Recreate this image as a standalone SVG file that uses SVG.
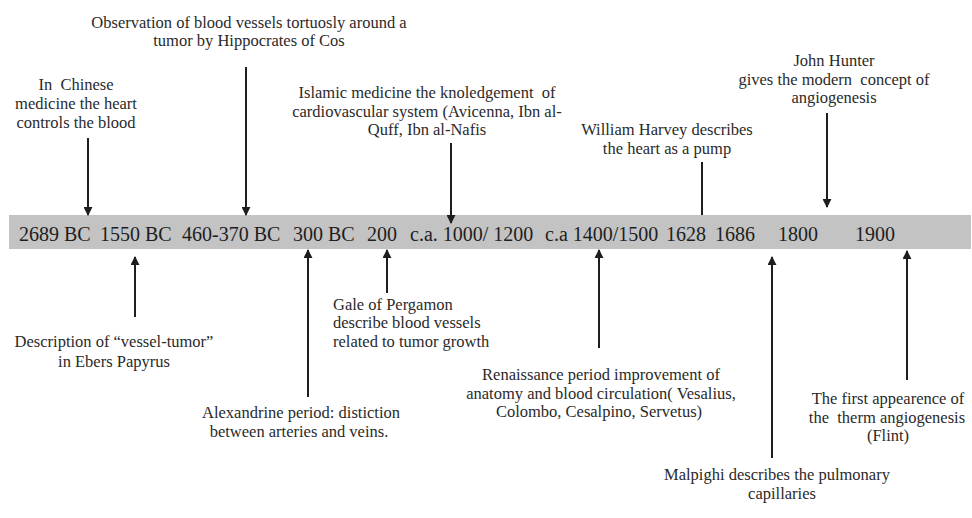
<svg xmlns="http://www.w3.org/2000/svg" width="972" height="518" viewBox="0 0 972 518">
<style>
.lbl{font-family:"Liberation Serif","Times New Roman",serif;font-size:16.5px;fill:#2a2a2a;text-anchor:middle;white-space:pre}
.lft{text-anchor:start}
.yr{font-family:"Liberation Serif","Times New Roman",serif;font-size:20px;fill:#1e1e1e}
.ar{stroke:#1e1e1e;stroke-width:2;fill:none}
</style>
<defs>
<marker id="ah" viewBox="0 0 10 10" refX="9" refY="5" markerWidth="9" markerHeight="9" markerUnits="userSpaceOnUse" orient="auto">
<path d="M0,0 L10,5 L0,10 z" fill="#1e1e1e"/>
</marker>
</defs>
<rect width="972" height="518" fill="#ffffff"/>
<g id="timeline">
<rect x="9" y="215" width="962" height="34" fill="#c3c3c3"/>
<text class="yr" x="19" y="241">2689 BC</text>
<text class="yr" x="100" y="241">1550 BC</text>
<text class="yr" x="182" y="241">460-370 BC</text>
<text class="yr" x="293" y="241">300 BC</text>
<text class="yr" x="367" y="241">200</text>
<text class="yr" x="410" y="241">c.a. 1000/ 1200</text>
<text class="yr" x="545" y="241">c.a 1400/1500</text>
<text class="yr" x="666" y="241">1628</text>
<text class="yr" x="715" y="241">1686</text>
<text class="yr" x="778" y="241">1800</text>
<text class="yr" x="855" y="241">1900</text>
</g>
<g id="connectors">
<line class="ar" x1="88" y1="138" x2="88" y2="215" marker-end="url(#ah)"/>
<line class="ar" x1="246" y1="67" x2="246" y2="215" marker-end="url(#ah)"/>
<line class="ar" x1="451" y1="143" x2="451" y2="223" marker-end="url(#ah)"/>
<line class="ar" x1="702" y1="162" x2="702" y2="215"/>
<line class="ar" x1="827" y1="113" x2="827" y2="207" marker-end="url(#ah)"/>
<line class="ar" x1="135" y1="317" x2="135" y2="257" marker-end="url(#ah)"/>
<line class="ar" x1="308" y1="397" x2="308" y2="250" marker-end="url(#ah)"/>
<line class="ar" x1="387" y1="293" x2="387" y2="250" marker-end="url(#ah)"/>
<line class="ar" x1="599" y1="348" x2="599" y2="250" marker-end="url(#ah)"/>
<line class="ar" x1="772" y1="458" x2="772" y2="257" marker-end="url(#ah)"/>
<line class="ar" x1="907" y1="380" x2="907" y2="251" marker-end="url(#ah)"/>
</g>
<g id="chinese">
<text class="lbl" x="76" y="90" xml:space="preserve">In  Chinese</text>
<text class="lbl" x="76" y="109">medicine the heart</text>
<text class="lbl" x="76" y="128">controls the blood</text>
</g>
<g id="hippocrates">
<text class="lbl" x="249" y="28">Observation of blood vessels tortuosly around a</text>
<text class="lbl" x="249" y="46">tumor by Hippocrates of Cos</text>
</g>
<g id="islamic">
<text class="lbl" x="427" y="98" xml:space="preserve">Islamic medicine the knoledgement  of</text>
<text class="lbl" x="427" y="117">cardiovascular system (Avicenna, Ibn al-</text>
<text class="lbl" x="427" y="135">Quff, Ibn al-Nafis</text>
</g>
<g id="harvey">
<text class="lbl" x="667" y="135">William Harvey describes</text>
<text class="lbl" x="667" y="154">the heart as a pump</text>
</g>
<g id="hunter">
<text class="lbl" x="834" y="66">John Hunter</text>
<text class="lbl" x="834" y="85" xml:space="preserve">gives the modern  concept of</text>
<text class="lbl" x="834" y="103">angiogenesis</text>
</g>
<g id="ebers">
<text class="lbl" x="114" y="347">Description of “vessel-tumor”</text>
<text class="lbl" x="114" y="367">in Ebers Papyrus</text>
</g>
<g id="alexandrine">
<text class="lbl" x="301" y="418">Alexandrine period: distiction</text>
<text class="lbl" x="299" y="437">between arteries and veins.</text>
</g>
<g id="gale">
<text class="lbl lft" x="333" y="310">Gale of Pergamon</text>
<text class="lbl lft" x="333" y="328">describe blood vessels</text>
<text class="lbl lft" x="333" y="347">related to tumor growth</text>
</g>
<g id="renaissance">
<text class="lbl" x="601" y="380">Renaissance period improvement of</text>
<text class="lbl" x="601" y="399">anatomy and blood circulation( Vesalius,</text>
<text class="lbl" x="599" y="417">Colombo, Cesalpino, Servetus)</text>
</g>
<g id="malpighi">
<text class="lbl" x="777" y="480">Malpighi describes the pulmonary</text>
<text class="lbl" x="782" y="499">capillaries</text>
</g>
<g id="flint">
<text class="lbl" x="888" y="404">The first appearence of</text>
<text class="lbl" x="887" y="423" xml:space="preserve">the  therm angiogenesis</text>
<text class="lbl" x="888" y="441">(Flint)</text>
</g>
</svg>
